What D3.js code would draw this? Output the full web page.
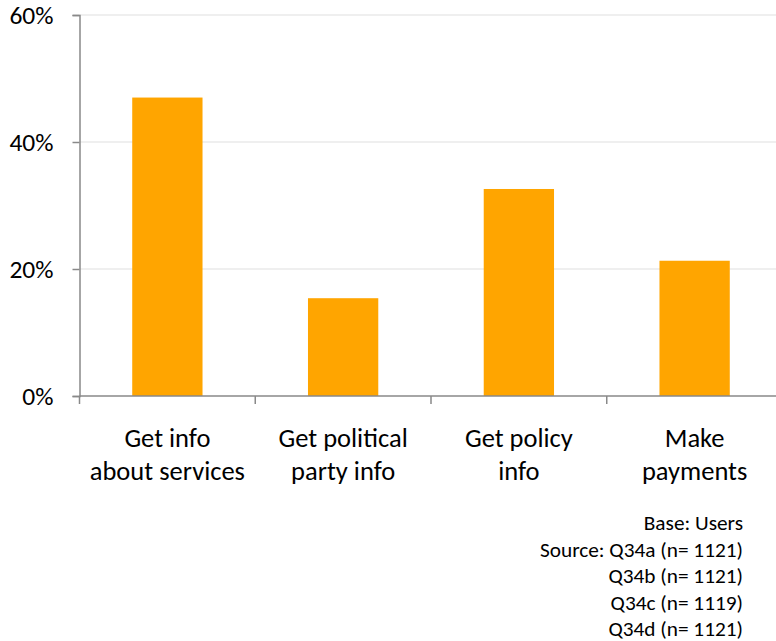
<!DOCTYPE html>
<html>
<head>
<meta charset="utf-8">
<script src="https://cdn.jsdelivr.net/npm/d3@7/dist/d3.min.js"></script>
<style>
  html, body { margin: 0; padding: 0; background: #fff; }
  svg { display: block; }
  text { font-family: Carlito, Lato, "Open Sans", sans-serif; fill: #000; }
</style>
</head>
<body>
<script>
// Share of users doing each activity online
const categories = [
  ["Get info", "about services"],
  ["Get political", "party info"],
  ["Get policy", "info"],
  ["Make", "payments"]
];
const values = [47.0, 15.4, 32.6, 21.3];
const yTicks = [0, 20, 40, 60];
const notes = [
  "Base: Users",
  "Source: Q34a (n= 1121)",
  "Q34b (n= 1121)",
  "Q34c (n= 1119)",
  "Q34d (n= 1121)"
];

const W = 776, H = 641;
const plotLeft = 79.5, plotRight = 782.5, plotTop = 15, plotBottom = 396;

const svg = d3.select("body").append("svg")
  .attr("width", W).attr("height", H);

const x = d3.scaleBand()
  .domain(d3.range(categories.length))
  .range([plotLeft, plotRight])
  .paddingInner(0.6).paddingOuter(0.3);

const y = d3.scaleLinear().domain([0, 60]).range([plotBottom, plotTop]);

// horizontal gridlines
svg.append("g").selectAll("line")
  .data(yTicks.filter(t => t > 0))
  .join("line")
  .attr("x1", plotLeft).attr("x2", W)
  .attr("y1", d => y(d)).attr("y2", d => y(d))
  .attr("stroke", "#efefef").attr("stroke-width", 2);

// bars
svg.append("g").selectAll("rect")
  .data(values)
  .join("rect")
  .attr("x", (d, i) => x(i))
  .attr("width", x.bandwidth())
  .attr("y", d => y(d))
  .attr("height", d => y(0) - y(d))
  .attr("fill", "#FFA500");

// y axis
const yAxis = svg.append("g")
  .attr("transform", `translate(${plotLeft},0)`)
  .call(d3.axisLeft(y).tickValues(yTicks).tickFormat(d => d + "%").tickSize(7).tickPadding(19));
yAxis.select(".domain").attr("stroke", "#898989").attr("stroke-width", 1.5);
yAxis.selectAll(".tick line").attr("stroke", "#898989").attr("stroke-width", 1.5);
yAxis.selectAll(".tick text")
  .style("font-family", "Carlito, Lato, 'Open Sans', sans-serif")
  .style("font-size", "25.5px").attr("fill", "#000").attr("dy", "0.33em");

// x axis baseline with band boundary ticks
const xg = svg.append("g");
xg.append("line")
  .attr("x1", plotLeft).attr("x2", W)
  .attr("y1", plotBottom).attr("y2", plotBottom)
  .attr("stroke", "#898989").attr("stroke-width", 1.5);
const boundaries = d3.range(categories.length).map(i => x(i) - x.step() * x.paddingInner() / 2);
xg.selectAll("line.tick")
  .data(boundaries)
  .join("line").attr("class", "tick")
  .attr("x1", d => d).attr("x2", d => d)
  .attr("y1", plotBottom).attr("y2", plotBottom + 8)
  .attr("stroke", "#898989").attr("stroke-width", 1.5);

// category labels
const lab = svg.append("g").selectAll("text")
  .data(categories)
  .join("text")
  .attr("text-anchor", "middle")
  .attr("x", (d, i) => x(i) + x.bandwidth() / 2)
  .attr("y", 447)
  .style("font-size", "26.5px");
lab.selectAll("tspan")
  .data(d => d)
  .join("tspan")
  .attr("x", function () { return this.parentNode.getAttribute("x"); })
  .attr("dy", (d, i) => i === 0 ? 0 : 33)
  .text(d => d);

// footnote
svg.append("g").selectAll("text")
  .data(notes)
  .join("text")
  .attr("text-anchor", "end")
  .attr("x", 743)
  .attr("y", (d, i) => 530 + i * 26.5)
  .style("font-size", "21.3px")
  .text(d => d);
</script>
</body>
</html>
